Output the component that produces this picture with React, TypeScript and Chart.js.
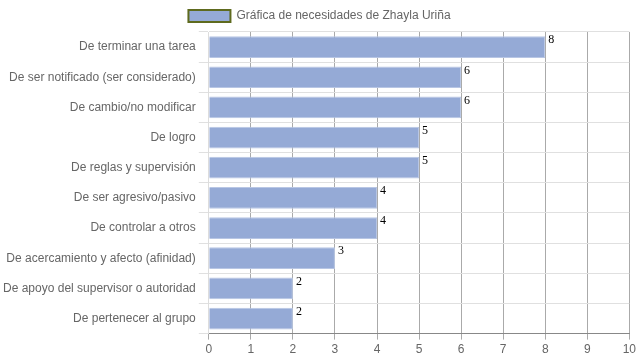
import { useEffect, useRef } from "react";
import { Chart, registerables } from "chart.js";

Chart.register(...registerables);

const categories = [
  "De terminar una tarea",
  "De ser notificado (ser considerado)",
  "De cambio/no modificar",
  "De logro",
  "De reglas y supervisión",
  "De ser agresivo/pasivo",
  "De controlar a otros",
  "De acercamiento y afecto (afinidad)",
  "De apoyo del supervisor o autoridad",
  "De pertenecer al grupo",
];
const values = [8, 6, 6, 5, 5, 4, 4, 3, 2, 2];
const seriesName = "Gráfica de necesidades de Zhayla Uriña";

const valueLabels = {
  id: "valueLabels",
  afterDatasetsDraw(chart: any) {
    const ctx = chart.ctx;
    const meta = chart.getDatasetMeta(0);
    ctx.save();
    ctx.fillStyle = "#000";
    ctx.font = "12px 'Liberation Serif', 'DejaVu Serif', serif";
    ctx.textAlign = "left";
    ctx.textBaseline = "top";
    meta.data.forEach((bar: any, i: number) => {
      const h = bar.height;
      ctx.fillText(String(values[i]), bar.x + 3, bar.y - h / 2 - 2);
    });
    ctx.restore();
  },
};

export default function App() {
  const ref = useRef<HTMLCanvasElement>(null);
  useEffect(() => {
    document.body.style.margin = "0";
    if (!ref.current) return;
    const chart = new Chart(ref.current, {
      type: "bar",
      data: {
        labels: categories,
        datasets: [
          {
            label: seriesName,
            data: values,
            backgroundColor: "#95aad6",
            borderColor: "#b8c6e4",
            borderWidth: 1,
            categoryPercentage: 0.8,
            barPercentage: 0.9,
          },
        ],
      },
      options: {
        indexAxis: "y",
        animation: false,
        responsive: false,
        maintainAspectRatio: false,
        layout: { padding: { left: 0, right: 0, top: 0, bottom: 0 } },
        plugins: {
          legend: {
            labels: {
              color: "#666",
              font: { family: "Arial, 'Liberation Sans', sans-serif", size: 12 },
              boxWidth: 42,
              boxHeight: 12,
              generateLabels: () => [
                {
                  text: seriesName,
                  fillStyle: "#95aad6",
                  strokeStyle: "#5e6a1e",
                  lineWidth: 2,
                  datasetIndex: 0,
                  hidden: false,
                  fontColor: "#666",
                },
              ],
            },
          },
          tooltip: { enabled: false },
        },
        scales: {
          x: {
            min: 0,
            max: 10,
            ticks: {
              stepSize: 1,
              color: "#666",
              font: { family: "Arial, 'Liberation Sans', sans-serif", size: 12 },
            },
            grid: { color: "#aaa", tickLength: 6 },
            border: { color: "#888" },
          },
          y: {
            ticks: {
              color: "#666",
              font: { family: "Arial, 'Liberation Sans', sans-serif", size: 12 },
            },
            grid: { color: "#e0e0e0", offset: true, tickLength: 10 },
            border: { color: "#ddd" },
          },
        },
      },
      plugins: [valueLabels],
    });
    return () => chart.destroy();
  }, []);
  return <canvas ref={ref} width={639} height={360} style={{ display: "block" }} />;
}
